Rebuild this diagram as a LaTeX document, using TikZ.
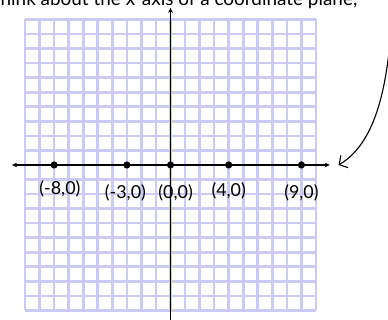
\documentclass[tikz,border=0pt]{standalone}
\usepackage{fontspec}
\setmainfont{Lato}
\usetikzlibrary{arrows.meta}
\definecolor{gridlav}{RGB}{202,202,242}
\tikzset{
  dot/.style={circle,fill=black,inner sep=0pt,minimum size=7pt},
  ptlabel/.style={font=\fontsize{17.5}{20}\selectfont,inner sep=1pt},
  axis/.style={line width=1.1pt},
}
\begin{document}
\begin{tikzpicture}[x=.5cm,y=.5cm]
\useasboundingbox (-11.72,-10.65) rectangle (14.95,11.34);
\draw[gridlav,line width=2.6pt,step=.5cm] (-10,-10) grid (10,10);
\node[anchor=base west,font=\fontsize{18.5}{20}\selectfont,inner sep=0pt] (title) at (-12.45,10.95) {Think about the x-axis of a coordinate plane,};
% axes
\coordinate (xl) at (-10.9,0);
\coordinate (xr) at (10.95,0);
\coordinate (yb) at (0,-10.7);
\coordinate (yt) at (0,10.8);
\draw[axis,{Stealth[length=5pt,width=4.5pt]}-{Stealth[length=5pt,width=4.5pt]}] (xl)--(xr);
\draw[axis,-{Stealth[length=5pt,width=4.5pt]}] (yb)--(yt);
% points on the x-axis
\foreach \v/\lx/\ly in {-8/-7.6/-1.65,-3/-3.1/-1.95,0/.35/-1.9,4/4/-1.75,9/9/-1.9}{
  \node[dot] (p\v) at (\v,0) {};
  \node[ptlabel] (l\v) at (\lx,\ly) {(\v,0)};
}
% pointer
\coordinate (note) at (15.1,8.6);
\coordinate (tip) at (11.55,0);
\draw[line width=1.1pt,-{Straight Barb[length=6pt,width=14pt]}] (note) .. controls (14.7,4) and (13.6,1.2) .. (tip);
\end{tikzpicture}
\end{document}
